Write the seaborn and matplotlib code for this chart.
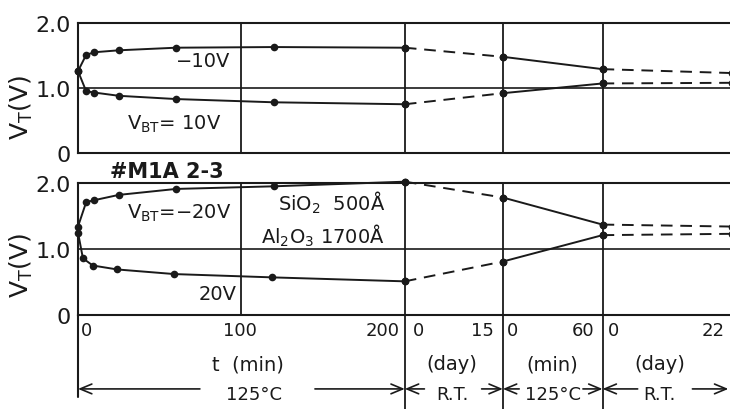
import matplotlib
matplotlib.use("Agg")
import matplotlib.pyplot as plt
import seaborn as sns
import pandas as pd

# ---------------- data ----------------
# phase 1: bias-temperature stress at 125 °C (t in min)
t1_top_neg = [0, 5, 10, 25, 60, 120, 200]
v1_top_neg = [1.26, 1.51, 1.55, 1.58, 1.62, 1.63, 1.62]   # V_BT = -10 V
t1_top_pos = [0, 5, 10, 25, 60, 120, 200]
v1_top_pos = [1.26, 0.95, 0.93, 0.88, 0.83, 0.78, 0.75]   # V_BT = 10 V
t1_bot_neg = [0, 5, 10, 25, 60, 120, 200]
v1_bot_neg = [1.34, 1.71, 1.74, 1.82, 1.91, 1.95, 2.02]   # V_BT = -20 V
t1_bot_pos = [0, 3, 9, 24, 59, 119, 200]
v1_bot_pos = [1.25, 0.86, 0.75, 0.69, 0.62, 0.57, 0.51]   # V_BT = 20 V
# phase 2: room temperature storage (days)
d2 = [0, 15]
v2_top_neg = [1.62, 1.48]
v2_top_pos = [0.75, 0.92]
v2_bot_neg = [2.02, 1.78]
v2_bot_pos = [0.51, 0.81]
# phase 3: 125 °C anneal (min)
m3 = [0, 60]
v3_top_neg = [1.48, 1.29]
v3_top_pos = [0.92, 1.07]
v3_bot_neg = [1.78, 1.37]
v3_bot_pos = [0.81, 1.21]
# phase 4: room temperature storage (days)
d4 = [0, 22]
v4_top_neg = [1.29, 1.23]
v4_top_pos = [1.07, 1.08]
v4_bot_neg = [1.37, 1.34]
v4_bot_pos = [1.21, 1.23]

# segment layout on a shared broken time axis
seg_start = [0, 200, 260, 321]
seg_width = [200, 60, 61, 79]
seg_len = [200, 15, 60, 22]
seg_ticks = [["0", "100", "200"], ["0", "15"], ["0", "60"], ["0", "22"]]
y_ticks = [0, 1, 2]
y_ticklabels = ["0", "1.0", "2.0"]

sns.set_theme(style="white")
plt.rcParams["font.family"] = ["DejaVu Sans"]
plt.rcParams["mathtext.default"] = "regular"
plt.rcParams["text.color"] = "k"


def to_u(seg, xs):
    return [seg_start[seg] + x * seg_width[seg] / seg_len[seg] for x in xs]


def draw(ax, seg, xs, ys, dashed):
    df = pd.DataFrame({"u": to_u(seg, xs), "V": ys})
    sns.lineplot(data=df, x="u", y="V", ax=ax, color="k", lw=1.4,
                 sort=False, estimator=None,
                 linestyle=(0, (6, 4)) if dashed else "-",
                 marker="o", markersize=5.5, markeredgewidth=0, clip_on=False)


fig = plt.figure(figsize=(7.3, 4.1), dpi=100)
L, W = 78 / 730, 652 / 730
ax1 = fig.add_axes([L, (410 - 154) / 410, W, 130 / 410])
ax2 = fig.add_axes([L, (410 - 316) / 410, W, 132 / 410])

for ax in (ax1, ax2):
    ax.set_xlim(0, 399)
    ax.set_ylim(0, 2)
    for s in ("left", "top", "bottom"):
        ax.spines[s].set_linewidth(1.5)
        ax.spines[s].set_color("k")
    ax.spines["right"].set_visible(False)
    ax.set_xticks([])
    ax.set_yticks(y_ticks)
    ax.set_yticklabels(y_ticklabels)
    ax.tick_params(axis="y", length=0, pad=5, labelsize=16, colors="k")
    ax.axhline(1.0, color="k", lw=1.2)
    ax.axvline(100, color="k", lw=1.3)

for u in seg_start[1:]:
    ax1.axvline(u, color="k", lw=1.3)
    ax2.axvline(u, ymin=-0.72, ymax=1, color="k", lw=1.3, clip_on=False)
ax2.axvline(0, ymin=-0.62, ymax=0, color="k", lw=1.5, clip_on=False)

# curves
draw(ax1, 0, t1_top_neg, v1_top_neg, False)
draw(ax1, 0, t1_top_pos, v1_top_pos, False)
draw(ax1, 1, d2, v2_top_neg, True)
draw(ax1, 1, d2, v2_top_pos, True)
draw(ax1, 2, m3, v3_top_neg, False)
draw(ax1, 2, m3, v3_top_pos, False)
draw(ax1, 3, d4, v4_top_neg, True)
draw(ax1, 3, d4, v4_top_pos, True)

draw(ax2, 0, t1_bot_neg, v1_bot_neg, False)
draw(ax2, 0, t1_bot_pos, v1_bot_pos, False)
draw(ax2, 1, d2, v2_bot_neg, True)
draw(ax2, 1, d2, v2_bot_pos, True)
draw(ax2, 2, m3, v3_bot_neg, False)
draw(ax2, 2, m3, v3_bot_pos, False)
draw(ax2, 3, d4, v4_bot_neg, True)
draw(ax2, 3, d4, v4_bot_pos, True)

for ax, yc in ((ax1, 0.36), (ax2, 0.38)):
    ax.set_xlabel("")
    ax.set_ylabel("V$_T$(V)", fontsize=18, color="k")
    ax.yaxis.set_label_coords(-0.066, yc)

# annotations inside panels
ax1.text(93, 1.42, "\u221210V", ha="right", va="center", fontsize=14)
ax1.text(88, 0.45, "V$_{BT}$= 10V", ha="right", va="center", fontsize=14)
ax1.text(19.5, -0.14, "#M1A 2-3", ha="left", va="center", fontsize=15,
         fontweight="bold", transform=ax1.get_xaxis_transform())
ax2.text(94, 1.55, "V$_{BT}$=\u221220V", ha="right", va="center", fontsize=14)
ax2.text(188, 1.72, "SiO$_2$  500\u00c5", ha="right", va="center", fontsize=14)
ax2.text(188, 1.22, "Al$_2$O$_3$ 1700\u00c5", ha="right", va="center", fontsize=14)
ax2.text(97, 0.32, "20V", ha="right", va="center", fontsize=14)

# broken time-axis labels
tr = ax2.get_xaxis_transform()
ypos = -0.11
tick_pos = [[(2, "left"), (99, "center"), (197, "right")],
            [(205, "left"), (254.5, "right")],
            [(262.5, "left"), (316, "right")],
            [(324, "left"), (396, "right")]]
for labels, poss in zip(seg_ticks, tick_pos):
    for lab, (u, ha) in zip(labels, poss):
        ax2.text(u, ypos, lab, ha=ha, va="center", fontsize=13, transform=tr)

unit_labels = [(104, "t  (min)"), (229, "(day)"), (290.5, "(min)"), (356, "(day)")]
for u, lab in unit_labels:
    ax2.text(u, -0.37, lab, ha="center", va="center", fontsize=14, transform=tr)

cond_labels = [(0, 74.6, 108, "125\u00b0C", 145, 200),
               (200, 212, 229, "R.T.", 247, 260),
               (260, 270, 290.5, "125\u00b0C", 309, 321),
               (321, 342.5, 356, "R.T.", 376, 398)]
ya = -0.56
aprops = dict(arrowstyle="->,head_length=0.6,head_width=0.25", color="k", lw=1.2,
              mutation_scale=14, shrinkA=0, shrinkB=0)
for u0, ul, uc, lab, ur, u1 in cond_labels:
    ax2.text(uc, -0.595, lab, ha="center", va="center", fontsize=13, transform=tr)
    ax2.annotate("", xy=(u0, ya), xytext=(ul, ya), xycoords=tr, textcoords=tr,
                 arrowprops=aprops)
    ax2.annotate("", xy=(u1, ya), xytext=(ur, ya), xycoords=tr, textcoords=tr,
                 arrowprops=aprops)

fig.savefig("out.png", dpi=100, facecolor="white")
